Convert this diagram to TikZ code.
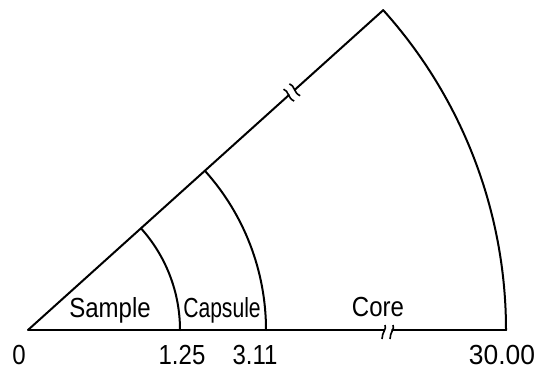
\documentclass[tikz,border=0pt]{standalone}
\usepackage{fontspec}
\setmainfont{Liberation Sans}
\usetikzlibrary{calc}
\begin{document}
\begin{tikzpicture}[x=1pt,y=1pt,
  wline/.style={line width=2pt, line join=round, line cap=round},
  lbl/.style={font=\fontsize{24}{26}\selectfont, inner sep=0pt, yscale=1.15},
  brk/.style={line width=1.6pt}]
\useasboundingbox (0,0) rectangle (545,373);
\coordinate (O) at (28,43);
\coordinate (A) at ($(O)+(478,0)$);
\coordinate (B) at ($(O)+(42:478)$);
% break points
\coordinate (b1) at ($(O)+(356,0)$);
\coordinate (b2) at ($(O)+(364,0)$);
\coordinate (c1) at ($(O)+(42:351)$);
\coordinate (c2) at ($(O)+(42:359)$);
% rays
\draw[wline] (O) -- (b1);
\draw[wline] (b2) -- (A);
\draw[wline] (O) -- (c1);
\draw[wline] (c2) -- (B);
% arcs
\draw[wline] ($(O)+(152,0)$) arc (0:42:152);
\draw[wline] ($(O)+(238,0)$) arc (0:42:238);
\draw[wline] (A) arc (0:42:478);
% break marks
\begin{scope}[shift={(b1)}]
  \draw[brk] (1,5) .. controls (3,1) and (-2,-2) .. (-2,-9);
\end{scope}
\begin{scope}[shift={(b2)}]
  \draw[brk] (1,5) .. controls (3,1) and (-2,-2) .. (-2,-9);
\end{scope}
\begin{scope}[shift={(c1)}, rotate=42]
  \draw[brk] (0,8) .. controls (3,3) and (-3,-1) .. (0,-8);
\end{scope}
\begin{scope}[shift={(c2)}, rotate=42]
  \draw[brk] (0,8) .. controls (3,3) and (-3,-1) .. (0,-8);
\end{scope}
% labels
\node[lbl] (sample) at (110,63) {Sample};
\node[lbl, xscale=0.88] (capsule) at (222,63) {Capsule};
\node[lbl] (core) at (378,66) {Core};
\node[lbl] (l0) at (19,18) {0};
\node[lbl] (l1) at (182,18) {1.25};
\node[lbl] (l2) at (255,18) {3.11};
\node[lbl, xscale=1.1] (l3) at (502,18) {30.00};
\end{tikzpicture}
\end{document}
